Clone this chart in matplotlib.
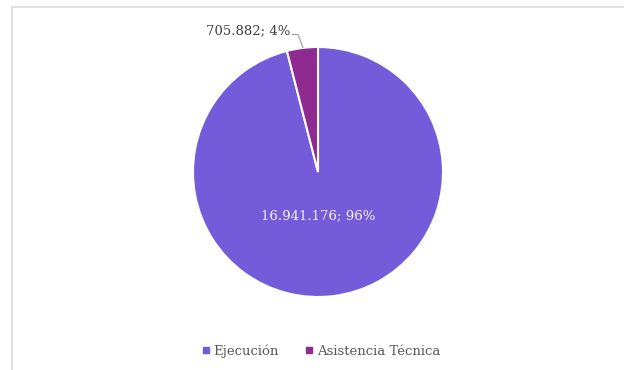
#! /usr/bin/env python3

import matplotlib
matplotlib.use("Agg")
import matplotlib.pyplot as plt
from matplotlib.lines import Line2D

categorias = ["Ejecución", "Asistencia Técnica"]
valores    = [16941176, 705882]
porcentaje = [96, 4]
colores    = ["#745BDA", "#8E2A90"]

def etiqueta(v, p):
    return "{:,}".format(v).replace(",", ".") + "; " + str(p) + "%"

plt.rcParams["font.family"] = ["DejaVu Serif"]

W, H = 624, 370
fig = plt.figure(figsize=(W / 100, H / 100), dpi=100)

# marco del gráfico (solo se ven arriba e izquierda)
fig.add_artist(Line2D([11.5 / W, 11.5 / W], [0, 1 - 6.5 / H], color="#D9D9D9", lw=1.2))
fig.add_artist(Line2D([11.5 / W, 1], [1 - 6.5 / H, 1 - 6.5 / H], color="#D9D9D9", lw=1.2))

cx, cy, r = 318, 172, 125
ax = fig.add_axes([(cx - r) / W, (H - cy - r) / H, 2 * r / W, 2 * r / H])

ax.pie(valores, colors=colores, startangle=90, counterclock=False, radius=1,
       wedgeprops={"edgecolor": "white", "linewidth": 1.5})
ax.set_xlim(-1, 1)
ax.set_ylim(-1, 1)
ax.set_aspect("equal")
ax.axis("off")

ax.text(0, -0.35, etiqueta(valores[0], porcentaje[0]), color="#F2F2F2",
        ha="center", va="center", fontsize=9.5)
ax.text(-0.22, 1.13, etiqueta(valores[1], porcentaje[1]), color="#404040",
        ha="right", va="center", fontsize=9.5, clip_on=False)
ax.plot([-0.205, -0.16, -0.12], [1.10, 1.10, 0.995], color="#A6A6A6", lw=0.9, clip_on=False)

handles = [Line2D([], [], marker="s", linestyle="none", markersize=5,
                  color=c) for c in colores]
fig.legend(handles, categorias, loc="center", bbox_to_anchor=(321 / W, 1 - 351 / H),
           ncol=2, frameon=False, fontsize=9.5, handlelength=0.6, handletextpad=0.3,
           columnspacing=2.0, labelcolor="#595959")

fig.savefig("out.png", dpi=100)
